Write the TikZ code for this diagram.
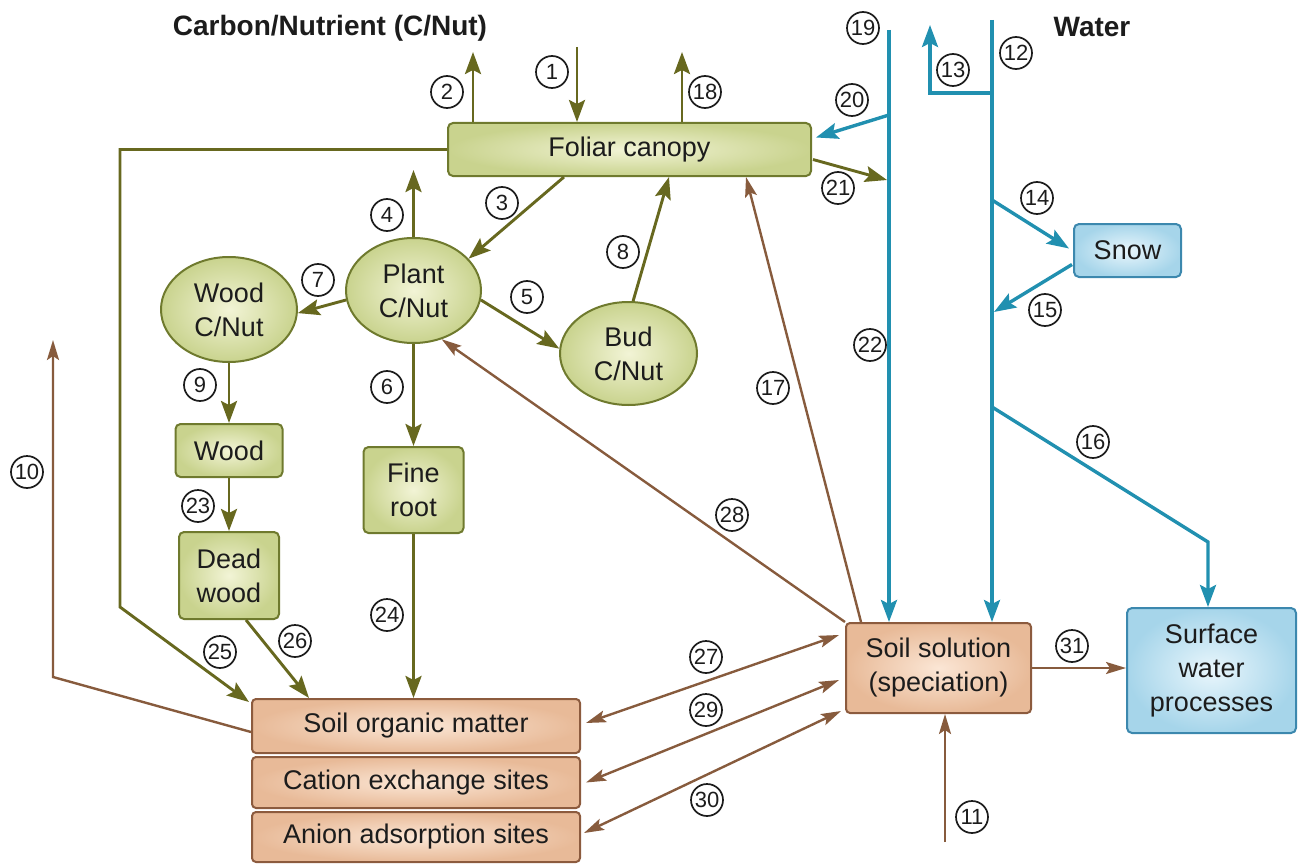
\documentclass[tikz,border=0pt]{standalone}
\usepackage{fontspec}
\setmainfont{Liberation Sans}
\usetikzlibrary{arrows.meta,shapes.geometric,calc}

\definecolor{olv}{HTML}{67681F}
\definecolor{gborder}{HTML}{6F7A2E}
\definecolor{glight}{HTML}{F2F4D6}
\definecolor{gdark}{HTML}{C9D38E}
\definecolor{brn}{HTML}{875B3D}
\definecolor{bborder}{HTML}{8C5B3E}
\definecolor{blight}{HTML}{FBE6D5}
\definecolor{bdark}{HTML}{E8BA98}
\definecolor{wblue}{HTML}{2190B0}
\definecolor{uborder}{HTML}{3C88AE}
\definecolor{ulight}{HTML}{E9F6FC}
\definecolor{udark}{HTML}{A6D5EA}
\definecolor{ink}{HTML}{1C1C1C}

\begin{document}
\begin{tikzpicture}[x=1pt,y=-1pt,
  every node/.style={text=ink},
  boxfont/.style={font=\fontsize{27}{34}\selectfont, align=center},
  gbox/.style={boxfont, draw=gborder, line width=2pt, rounded corners=5pt,
    inner color=glight, outer color=gdark, inner sep=0pt},
  gell/.style={boxfont, ellipse, draw=gborder, line width=2pt,
    inner color=glight, outer color=gdark, inner sep=0pt},
  bbox/.style={boxfont, draw=bborder, line width=2pt, rounded corners=4pt,
    inner color=blight, outer color=bdark, inner sep=0pt},
  ubox/.style={boxfont, draw=uborder, line width=2pt, rounded corners=5pt,
    inner color=ulight, outer color=udark, inner sep=0pt},
  num/.style={circle, draw=ink, line width=1.7pt, minimum size=32pt,
    inner sep=0pt, font=\fontsize{22}{22}\selectfont},
  title/.style={font=\fontsize{28}{28}\selectfont\bfseries},
  garr/.style={draw=olv, line width=2.9pt, line join=miter,
    -{Stealth[length=22pt,width=16pt,inset=4pt]}},
  barr/.style={draw=brn, line width=2.4pt, line join=miter,
    -{Stealth[length=20pt,width=12pt,inset=4pt]}},
  barrd/.style={draw=brn, line width=2.4pt,
    {Stealth[length=20pt,width=12pt,inset=4pt]}-{Stealth[length=20pt,width=12pt,inset=4pt]}},
  warr/.style={draw=wblue, line width=3.4pt, line join=miter,
    -{Stealth[length=22pt,width=16pt,inset=4pt]}},
]
\useasboundingbox (0,0) rectangle (1298,864);

% headings
\node[title] (tcarb) at (330,28) {Carbon/Nutrient (C/Nut)};
\node[title] (twater) at (1092,27) {Water};

% carbon / nutrient pools
\node[gbox, minimum width=363pt, minimum height=53pt] (canopy) at (629.5,149.5) {Foliar canopy};
\node[gell, minimum width=135pt, minimum height=105pt] (plant) at (413.5,290.5) {Plant\\C/Nut};
\node[gell, minimum width=136pt, minimum height=105pt] (woodc) at (229,309.5) {Wood\\C/Nut};
\node[gell, minimum width=137pt, minimum height=103pt] (bud) at (628.5,353.5) {Bud\\C/Nut};
\node[gbox, minimum width=107pt, minimum height=53pt] (woodb) at (229,450.5) {Wood};
\node[gbox, minimum width=100pt, minimum height=87pt] (dead) at (229,575.5) {Dead\\wood};
\node[gbox, minimum width=100pt, minimum height=86pt] (fine) at (413.5,490) {Fine\\root};

% soil pools
\node[bbox, minimum width=328pt, minimum height=54pt] (som) at (416,726) {Soil organic matter};
\node[bbox, minimum width=328pt, minimum height=51pt] (cation) at (416,782.5) {Cation exchange sites};
\node[bbox, minimum width=328pt, minimum height=50pt] (anion) at (416,837) {Anion adsorption sites};
\node[bbox, minimum width=185pt, minimum height=90pt] (ss) at (938.5,668) {Soil solution\\(speciation)};

% water pools
\node[ubox, minimum width=169pt, minimum height=125pt] (sw) at (1211.5,670.5) {Surface\\water\\processes};
\node[ubox, minimum width=107pt, minimum height=53pt] (snow) at (1127.5,250.5) {Snow};

% free ends and bends
\coordinate (t1) at (577,47);
\coordinate (t2) at (473,52);
\coordinate (t18) at (682,52);
\coordinate (t4) at (413.5,170);
\coordinate (t10) at (53,340);
\coordinate (k10) at (53,677);
\coordinate (k25) at (120,607);
\coordinate (t11) at (945,842);
\coordinate (w19) at (889,30);
\coordinate (w12) at (992,20);
\coordinate (j13) at (992,93);
\coordinate (k13) at (930,93);
\coordinate (t13) at (930,25);
\coordinate (j20) at (889,115);
\coordinate (t21) at (887,180);
\coordinate (j14) at (992,200);
\coordinate (t15) at (994,312);
\coordinate (j16) at (992,407);
\coordinate (k16) at (1208,542);

% carbon / nutrient flows
\draw[garr] (t1) -- (t1 |- canopy.north);
\draw[garr] (t2 |- canopy.north) -- (t2);
\draw[garr] (t18 |- canopy.north) -- (t18);
\draw[garr] ($(canopy.south west)+(117,0)$) -- (plant.30);
\draw[garr] (plant.north) -- (t4);
\draw[garr] (plant.-8) -- (bud.176);
\draw[garr] (plant.south) -- (fine.north);
\draw[garr] (plant.188) -- (woodc.-3);
\draw[garr] (bud.85) -- ($(canopy.south west)+(222,0)$);
\draw[garr] (woodc.south) -- (woodb.north);
\draw[garr] (woodb.south) -- (dead.north);
\draw[garr] (fine.south) -- (fine.south |- som.north);
\draw[garr] (canopy.west) -- (canopy.west -| k25) -- (k25) -- ($(som.north west)+(-2,4)$);
\draw[garr] ($(dead.south west)+(68,0)$) -- ($(som.north west)+(58,0)$);
\draw[garr] ($(canopy.east)+(1,10)$) -- (t21);

% soil exchanges
\draw[barr] ($(som.west)+(0,6)$) -- (k10) -- (t10);
\draw[barr] (t11) -- (t11 |- ss.south);
\draw[barr] ($(ss.north west)+(16,0)$) -- ($(canopy.south west)+(299,0)$);
\draw[barr] (ss.north west) -- (plant.-60);
\draw[barrd] ($(som.east)+(5,-3)$) -- ($(ss.west)+(-6,-33)$);
\draw[barrd] ($(cation.east)+(5,0)$) -- ($(ss.west)+(-6,12)$);
\draw[barrd] ($(anion.east)+(3,-4)$) -- ($(ss.south west)+(-4,-3)$);
\draw[barr] (ss.east) -- (ss.east -| sw.west);

% water flows
\draw[warr] (w19) -- (w19 |- ss.north);
\draw[warr] (w12) -- (w12 |- ss.north);
\draw[warr] (j13) -- (k13) -- (t13);
\draw[warr] (j20) -- ($(canopy.east)+(4,-12)$);
\draw[warr] (j14) -- ($(snow.west)+(-4,-2)$);
\draw[warr] ($(snow.west)+(-1,14)$) -- (t15);
\draw[warr] (j16) -- (k16) -- (k16 |- sw.north);

% flow numbers
\node[num] (n1) at (552,72) {1};
\node[num] (n2) at (447,92) {2};
\node[num] (n3) at (502,203) {3};
\node[num] (n4) at (387,215) {4};
\node[num] (n5) at (527,297) {5};
\node[num] (n6) at (387,387) {6};
\node[num] (n7) at (318,280) {7};
\node[num] (n8) at (623,252) {8};
\node[num] (n9) at (200,385) {9};
\node[num] (n10) at (27,472) {10};
\node[num] (n11) at (972,817) {11};
\node[num] (n12) at (1016,53) {12};
\node[num] (n13) at (953,70) {13};
\node[num] (n14) at (1037,198) {14};
\node[num] (n15) at (1045,310) {15};
\node[num] (n16) at (1093,442) {16};
\node[num] (n17) at (773,388) {17};
\node[num] (n18) at (705,92) {18};
\node[num] (n19) at (863,28) {19};
\node[num] (n20) at (852,100) {20};
\node[num] (n21) at (838,188) {21};
\node[num] (n22) at (870,345) {22};
\node[num] (n23) at (198,506) {23};
\node[num] (n24) at (387,615) {24};
\node[num] (n25) at (220,652) {25};
\node[num] (n26) at (295,641) {26};
\node[num] (n27) at (706,657) {27};
\node[num] (n28) at (732,515) {28};
\node[num] (n29) at (706,710) {29};
\node[num] (n30) at (707,800) {30};
\node[num] (n31) at (1072,646) {31};
\end{tikzpicture}
\end{document}
